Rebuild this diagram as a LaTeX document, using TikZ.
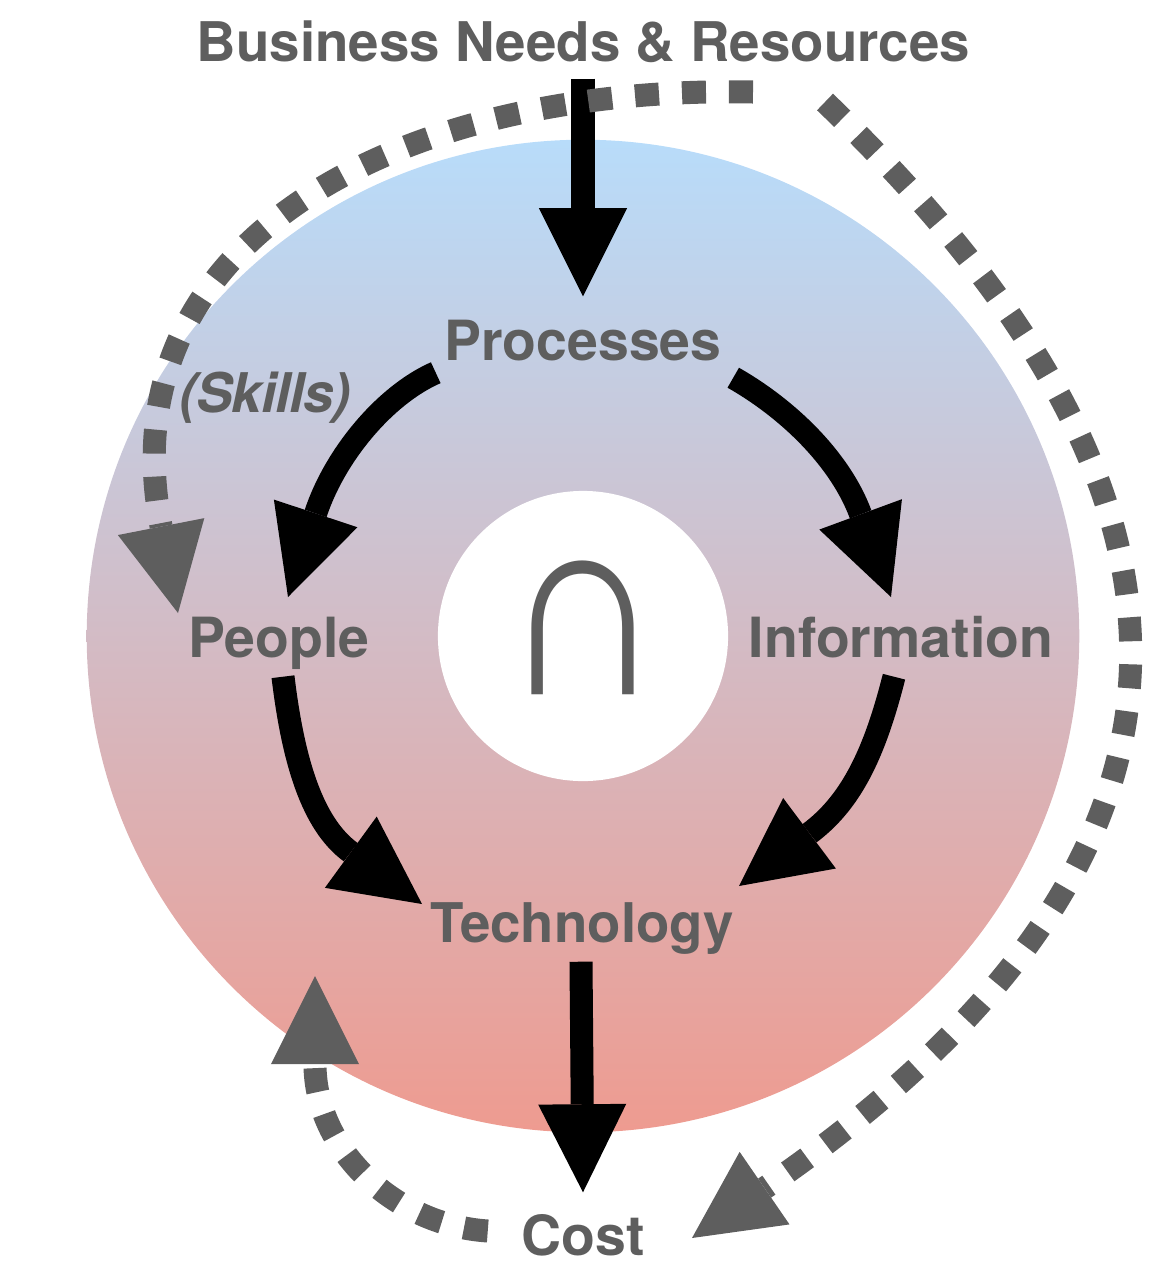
\documentclass[tikz,border=0pt]{standalone}
\usepackage{fontspec}
\setmainfont{TeX Gyre Heros}
\newfontfamily\meetfont{Liberation Sans}
\usetikzlibrary{arrows.meta,positioning,calc}
\definecolor{Slate}{HTML}{5E5E5E}
\definecolor{TopBlue}{HTML}{B8DCFA}
\definecolor{MidMauve}{HTML}{CEBAC6}
\definecolor{LowRed}{HTML}{EE9B90}
\tikzset{
  lab/.style={anchor=base,font=\fontsize{15.75}{18}\selectfont\bfseries,text=Slate,inner sep=0pt,text height=0.4cm,text depth=0.1cm},
  flow/.style={line width=0.23cm,-{Triangle[length=0.88cm,width=0.88cm,line width=0pt]}},
  loopflow/.style={line width=0.23cm,Slate,dash pattern=on 0.24cm off 0.23cm,-{Triangle[length=0.88cm,width=0.88cm,line width=0pt]}},
}
\begin{document}
\begin{tikzpicture}[x=0.01cm,y=-0.01cm]
\useasboundingbox (0,0) rectangle (1170,1284);
\shade[top color=TopBlue,middle color=MidMauve,bottom color=LowRed] (583,636) circle[radius=4.96cm];
\node[circle,fill=white,minimum size=2.9cm,inner sep=0pt] (hub) at (583,636) {};
\node[font=\fontsize{65}{65}\selectfont\meetfont\bfseries,text=Slate,inner sep=0pt] (meet) at (583,628) {\scalebox{1}[1.16]{∩}};
\node[lab,font=\fontsize{15.55}{18}\selectfont\bfseries] (needs) at (583.5,61) {Business Needs \& Resources};
\node[lab] (processes) at (583,360) {Processes};
\node[lab] (people) at (279,657) {People};
\node[lab] (information) at (901,657) {Information};
\node[lab,font=\fontsize{15.55}{18}\selectfont\bfseries] (technology) at (582,942) {Technology};
\node[lab] (cost) at (583,1255) {Cost};
\node[lab,font=\fontsize{15.55}{18}\selectfont\bfseries\itshape\addfontfeature{LetterSpace=-2}] (skills) at (265,412) {(Skills)};
\coordinate (skillsstart) at (753,92);
\coordinate (skillsend) at (178,613);
\coordinate (returnstart) at (825,102);
\coordinate (returnend) at (692,1238);
\coordinate (costend) at (315,976);
\draw[flow] ($(needs.south)+(-0.5,7)$) -- ($(processes.north)+(0,-23)$);
\draw[flow] ($(processes.south west)+(-8,2)$) .. controls (385,395) and (335,455) .. (288,597);
\draw[flow] ($(processes.south east)+(11,7)$) .. controls (790,410) and (841,461) .. (891,597);
\draw[flow] ($(people.south)+(4,9)$) .. controls (293,760) and (312,824) .. (422,904);
\draw[flow] ($(information.south)+(-7,9)$) .. controls (874,756) and (850,803) .. (739,886);
\draw[flow] ($(technology.south)+(-1,9)$) -- ($(cost.north)+(0,-22)$);
\draw[loopflow] (skillsstart) .. controls (400,85) and (105,240) .. (skillsend);
\draw[loopflow] (returnstart) .. controls (1195,457) and (1290,827) .. (returnend);
\draw[loopflow] ($(cost.west)+(-33,-9)$) .. controls (395,1225) and (315,1150) .. (costend);
\end{tikzpicture}
\end{document}
